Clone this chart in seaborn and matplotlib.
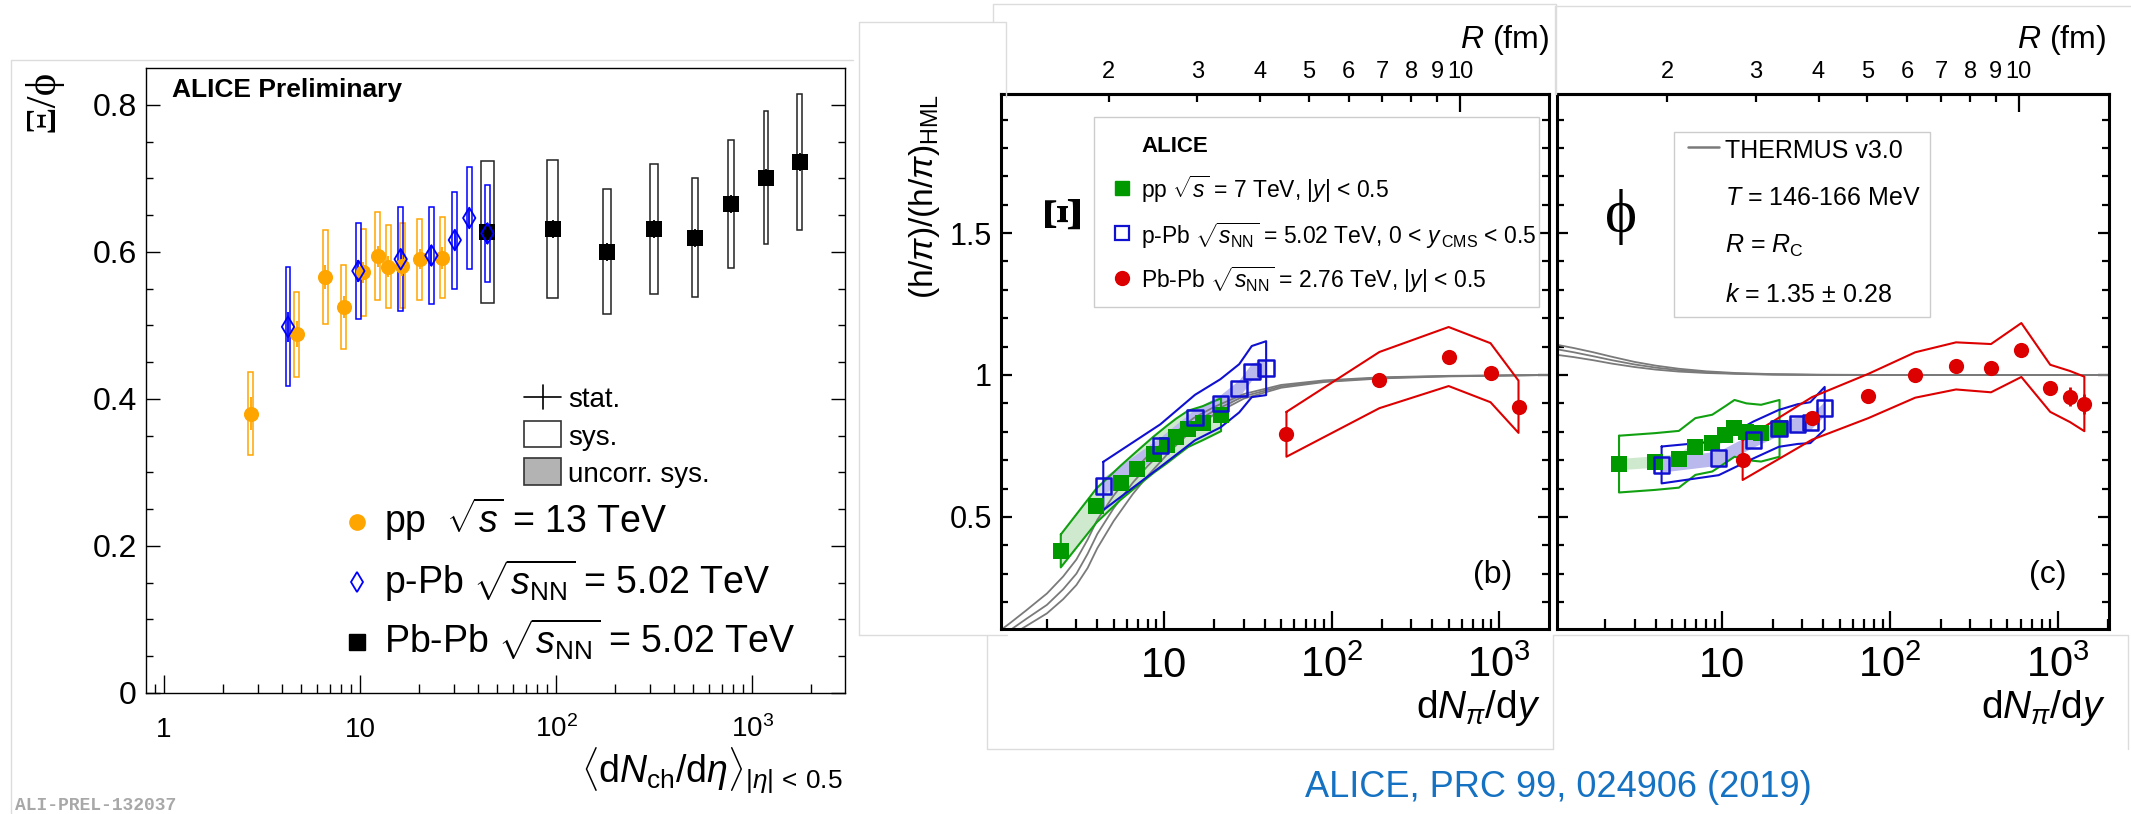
import numpy as np
import matplotlib
matplotlib.use("Agg")
import matplotlib.pyplot as plt
from matplotlib.patches import Rectangle
from matplotlib.lines import Line2D
from matplotlib.ticker import FixedLocator, NullFormatter
import seaborn as sns

sns.set_theme(style="ticks")
plt.rcParams.update({
    "font.family": ["Liberation Sans", "DejaVu Sans"],
    "mathtext.fontset": "custom",
    "mathtext.rm": "Liberation Sans",
    "mathtext.it": "Liberation Sans:italic",
    "mathtext.bf": "Liberation Sans:bold",
    "axes.edgecolor": "black",
    "xtick.color": "black",
    "ytick.color": "black",
    "text.color": "black",
    "axes.facecolor": "white",
    "figure.facecolor": "white",
})

# ---------------- Xi/phi versus <dNch/deta> ----------------
PP13_DNDETA = [2.77, 4.76, 6.63, 8.26, 10.4, 12.3, 13.9, 16.4, 20.1, 26.3]
PP13_RATIO = [0.380, 0.488, 0.566, 0.525, 0.572, 0.594, 0.580, 0.581, 0.590, 0.592]
PP13_STAT = [0.022, 0.018, 0.016, 0.015, 0.014, 0.014, 0.014, 0.014, 0.014, 0.015]
PP13_SYS = [0.056, 0.058, 0.064, 0.057, 0.059, 0.060, 0.057, 0.058, 0.055, 0.055]

PPB_DNDETA = [4.29, 9.8, 16.1, 23.1, 30.4, 36.0, 44.6]
PPB_RATIO = [0.498, 0.574, 0.590, 0.595, 0.616, 0.646, 0.625]
PPB_STAT = [0.020, 0.015, 0.014, 0.014, 0.014, 0.014, 0.014]
PPB_SYS = [0.081, 0.065, 0.071, 0.066, 0.066, 0.070, 0.066]

PBPB_DNDETA = [44.6, 95.8, 181, 315, 508, 778, 1170, 1742]
PBPB_RATIO = [0.627, 0.631, 0.600, 0.631, 0.619, 0.665, 0.701, 0.722]
PBPB_STAT = [0.012, 0.012, 0.012, 0.012, 0.012, 0.012, 0.012, 0.012]
PBPB_SYS = [0.096, 0.094, 0.085, 0.089, 0.081, 0.087, 0.090, 0.093]

# ---------------- double ratios (h/pi)/(h/pi)_HML versus dN_pi/dy ----------------
PP7_DNDY = [2.42, 3.95, 5.5, 6.9, 8.7, 10.4, 11.8, 13.9, 17.0, 21.9]
PPB502_DNDY = [4.34, 9.5, 15.3, 21.7, 28.1, 33.4, 40.7]
PBPB_XI_DNDY = [53.8, 193, 500, 889, 1306]
PBPB_PHI_DNDY = [13.2, 34.2, 74.1, 141, 247, 399, 605, 899, 1180, 1436]

XI_PP7 = [0.38, 0.54, 0.62, 0.67, 0.72, 0.755, 0.78, 0.81, 0.83, 0.86]
XI_PP7_SYS = [0.058, 0.060, 0.060, 0.062, 0.064, 0.066, 0.066, 0.064, 0.060, 0.058]
XI_PPB = [0.609, 0.751, 0.850, 0.900, 0.953, 1.012, 1.024]
XI_PPB_SYS = [0.085, 0.075, 0.080, 0.085, 0.085, 0.090, 0.095]
XI_PBPB = [0.791, 0.982, 1.065, 1.008, 0.888]
XI_PBPB_SYS = [0.079, 0.099, 0.104, 0.104, 0.092]

PHI_PP7 = [0.686, 0.695, 0.703, 0.748, 0.760, 0.790, 0.812, 0.800, 0.795, 0.812]
PHI_PP7_SYS = [0.10, 0.10, 0.10, 0.10, 0.10, 0.10, 0.10, 0.10, 0.10, 0.10]
PHI_PPB = [0.683, 0.707, 0.771, 0.812, 0.827, 0.832, 0.883]
PHI_PPB_SYS = [0.065, 0.060, 0.065, 0.065, 0.070, 0.072, 0.075]
PHI_PBPB = [0.700, 0.847, 0.926, 1.000, 1.032, 1.024, 1.088, 0.953, 0.924, 0.898]
PHI_PBPB_STAT = [0.010, 0.010, 0.010, 0.010, 0.010, 0.012, 0.015, 0.020, 0.035, 0.035]
PHI_PBPB_SYS = [0.070, 0.075, 0.078, 0.080, 0.083, 0.085, 0.095, 0.083, 0.090, 0.096]

# THERMUS v3.0 canonical curves (T = 146-166 MeV)
THERMUS_XI_DNDY = [1.0, 1.2, 1.5, 2.0, 2.5, 3.0, 3.5, 4.0, 5.0, 6.5, 8.0, 11, 15, 20, 30, 50, 90, 200, 500, 2000]
THERMUS_XI = [
    [0.09, 0.125, 0.17, 0.23, 0.29, 0.35, 0.42, 0.49, 0.575, 0.66, 0.715, 0.785, 0.848, 0.888, 0.933, 0.965, 0.981, 0.992, 0.997, 1.0],
    [0.07, 0.10, 0.14, 0.19, 0.245, 0.30, 0.37, 0.44, 0.53, 0.62, 0.68, 0.76, 0.83, 0.875, 0.925, 0.960, 0.978, 0.990, 0.996, 1.0],
    [0.05, 0.08, 0.115, 0.16, 0.21, 0.26, 0.32, 0.39, 0.485, 0.58, 0.645, 0.735, 0.81, 0.862, 0.917, 0.955, 0.975, 0.988, 0.995, 1.0],
]
THERMUS_PHI_DNDY = [1.0, 1.3, 1.7, 2.2, 3.0, 4.0, 5.5, 8.0, 12, 20, 40, 100, 2000]
THERMUS_PHI = [
    [1.108, 1.095, 1.080, 1.064, 1.046, 1.033, 1.022, 1.013, 1.007, 1.003, 1.001, 1.0, 1.0],
    [1.092, 1.080, 1.066, 1.052, 1.037, 1.026, 1.017, 1.010, 1.005, 1.002, 1.000, 1.0, 1.0],
    [1.072, 1.063, 1.052, 1.040, 1.028, 1.019, 1.012, 1.007, 1.004, 1.001, 1.000, 1.0, 1.0],
]

# colours
ORANGE = "#ffa500"
BLUE_L = "#0000ff"
GREEN = "#009a00"
BLUE = "#1010d0"
RED = "#dd0000"
LAVENDER = "#b9b9ee"
PALE_GREEN = "#cfe9cf"

W, H = 2131, 814
fig = plt.figure(figsize=(W / 100, H / 100), dpi=100)


def fx(px):
    return px / W


def fy(py):
    return 1 - py / H


def frame_line(xs, ys):
    fig.add_artist(Line2D([fx(v) for v in xs], [fy(v) for v in ys],
                          transform=fig.transFigure, color="#dcdcdc", lw=1.0))


# light borders of the three panels
frame_line([11, 11, 853], [814, 60, 60])
frame_line([859, 859, 1006, 1006], [635, 22, 22, 97])
frame_line([993, 993, 1556, 1556], [22, 4, 4, 94])
frame_line([859, 1007], [635, 635])
frame_line([987, 987, 1553], [635, 749, 749])
frame_line([1555, 1555, 2131], [94, 6, 6])
frame_line([1553, 1553, 2128, 2128], [749, 635, 635, 749])

axL = fig.add_axes([fx(146), fy(693), (845 - 146) / W, (693 - 68) / H])
axM = fig.add_axes([fx(1001), fy(629), 548 / W, 535 / H])
axR = fig.add_axes([fx(1557), fy(629), 552 / W, 535 / H])

# ======================= left panel =======================
axL.set_xscale("log")
axL.set_xlim(0.81, 2965)
axL.set_ylim(0, 0.85)


def sys_boxes(ax, xs, ys, errs, half_dec, edge, face="none", lw=1.1, z=2):
    if np.isscalar(half_dec):
        half_dec = [half_dec] * len(xs)
    for x, y, e, h in zip(xs, ys, errs, half_dec):
        x0, x1 = x * 10 ** (-h), x * 10 ** h
        ax.add_patch(Rectangle((x0, y - e), x1 - x0, 2 * e, facecolor=face,
                               edgecolor=edge, lw=lw, zorder=z))


def stat_bars(ax, xs, ys, errs, color, lw=1.3, z=3):
    ax.vlines(xs, np.array(ys) - np.array(errs), np.array(ys) + np.array(errs),
              colors=color, lw=lw, zorder=z)


PBPB_BOX_HALF = [0.033, 0.028, 0.020, 0.018, 0.015, 0.013, 0.0115, 0.012]
sys_boxes(axL, PBPB_DNDETA, PBPB_RATIO, PBPB_SYS, PBPB_BOX_HALF, "#222222")
sys_boxes(axL, PP13_DNDETA, PP13_RATIO, PP13_SYS, 0.0125, ORANGE)
sys_boxes(axL, PPB_DNDETA, PPB_RATIO, PPB_SYS, 0.012, BLUE_L)
stat_bars(axL, PBPB_DNDETA, PBPB_RATIO, PBPB_STAT, "black")
stat_bars(axL, PP13_DNDETA, PP13_RATIO, PP13_STAT, ORANGE)
stat_bars(axL, PPB_DNDETA, PPB_RATIO, PPB_STAT, BLUE_L)

sns.scatterplot(x=PBPB_DNDETA, y=PBPB_RATIO, ax=axL, marker="s", s=135,
                color="black", edgecolor="black", linewidth=0, zorder=5, legend=False)
sns.scatterplot(x=PP13_DNDETA, y=PP13_RATIO, ax=axL, marker="o", s=118,
                color=ORANGE, edgecolor=ORANGE, linewidth=0, zorder=5, legend=False)
sns.scatterplot(x=PPB_DNDETA, y=PPB_RATIO, ax=axL, marker="d", s=110,
                facecolor="none", edgecolor=BLUE_L, linewidth=1.3, zorder=6, legend=False)

axL.set_xticks([1, 10, 100, 1000], labels=["1", "10", r"$10^{2}$", r"$10^{3}$"])
left_minor = [0.9] + [m * d for d in (1, 10, 100) for m in range(2, 10)] + [2000]
axL.xaxis.set_minor_locator(FixedLocator(left_minor))
axL.xaxis.set_minor_formatter(NullFormatter())
axL.set_yticks([0, 0.2, 0.4, 0.6, 0.8], labels=["0", "0.2", "0.4", "0.6", "0.8"])
axL.yaxis.set_minor_locator(FixedLocator([0.05 * k for k in range(1, 17) if k % 4]))
axL.tick_params(which="both", direction="in", top=False, right=True, width=1.0)
axL.tick_params(axis="y", which="major", length=10, labelsize=23, pad=6.5)
axL.tick_params(axis="y", which="minor", length=5)
axL.tick_params(axis="x", which="major", length=13, labelsize=20, pad=31.5)
axL.tick_params(axis="x", which="minor", length=6.5)
for lab in axL.get_xticklabels():
    lab.set_va("baseline")
for sp in axL.spines.values():
    sp.set_linewidth(1.0)

fig.text(fx(172), fy(97), "ALICE Preliminary", fontsize=19, fontweight="bold", va="baseline")
fig.text(fx(43), fy(70), "Ξ/ϕ", rotation=90, ha="center", va="top",
         fontsize=31, family=["Liberation Serif", "DejaVu Serif"])
fig.text(fx(843), fy(783), r"$\langle$d$N_{\rm ch}$/d$\eta\rangle_{|\eta|\,<\,0.5}$",
         ha="right", va="baseline", fontsize=27)
fig.text(fx(15), fy(810), "ALI-PREL-132037", fontsize=13, fontweight="bold",
         color="#a8a8a8", family=["Liberation Mono", "DejaVu Sans Mono"], va="baseline")

# uncertainty key
fig.add_artist(Line2D([fx(524), fx(561)], [fy(397), fy(397)], transform=fig.transFigure,
                      color="black", lw=1.2))
fig.add_artist(Line2D([fx(543), fx(543)], [fy(385), fy(409)], transform=fig.transFigure,
                      color="black", lw=1.2))
fig.add_artist(Rectangle((fx(524), fy(447)), 37 / W, 26 / H, transform=fig.transFigure,
                         facecolor="white", edgecolor="#333333", lw=1.2))
fig.add_artist(Rectangle((fx(524), fy(485)), 37 / W, 27 / H, transform=fig.transFigure,
                         facecolor="#b3b3b3", edgecolor="#333333", lw=1.2))
for txt, yb in (("stat.", 407), ("sys.", 445), ("uncorr. sys.", 482)):
    fig.text(fx(568), fy(yb), txt, fontsize=20, va="baseline")

# collision-system key
fig.add_artist(Line2D([fx(357)], [fy(522)], transform=fig.transFigure, marker="o", ms=11,
                      color=ORANGE, mec=ORANGE, ls="none"))
fig.add_artist(Line2D([fx(357)], [fy(582)], transform=fig.transFigure, marker="d", ms=10,
                      mfc="none", mec=BLUE_L, mew=1.3, ls="none"))
fig.add_artist(Line2D([fx(357)], [fy(642)], transform=fig.transFigure, marker="s", ms=11.5,
                      color="black", ls="none"))
fig.text(fx(384), fy(533), r"pp  $\sqrt{s}$ = 13 TeV", fontsize=27, va="baseline")
fig.text(fx(384), fy(594), r"p-Pb $\sqrt{s_{\rm NN}}$ = 5.02 TeV", fontsize=27, va="baseline")
fig.text(fx(384), fy(654), r"Pb-Pb $\sqrt{s_{\rm NN}}$ = 5.02 TeV", fontsize=27, va="baseline")

# ======================= model-comparison panels =======================
R_SCALE = 1.196


def to_radius(x):
    return R_SCALE * np.cbrt(np.asarray(x, dtype=float))


def from_radius(r):
    return (np.asarray(r, dtype=float) / R_SCALE) ** 3


def style_panel(ax, xlim, show_ylabels):
    ax.set_xscale("log")
    ax.set_xlim(*xlim)
    ax.set_ylim(0.105, 1.99)
    ax.set_xticks([10, 100, 1000], labels=["10", r"$10^{2}$", r"$10^{3}$"])
    minor = [m * d for d in (1, 10, 100, 1000) for m in range(2, 10) if xlim[0] <= m * d <= xlim[1]]
    ax.xaxis.set_minor_locator(FixedLocator(minor))
    ax.xaxis.set_minor_formatter(NullFormatter())
    ax.set_yticks([0.5, 1.0, 1.5], labels=["0.5", "1", "1.5"])
    ax.yaxis.set_minor_locator(FixedLocator([0.1 * k for k in range(2, 20) if k % 5]))
    ax.tick_params(which="both", direction="in", top=False, right=True, width=1.6)
    ax.tick_params(axis="y", which="major", length=8, labelsize=22, pad=6.5,
                   labelleft=show_ylabels)
    ax.tick_params(axis="y", which="minor", length=4.7)
    ax.tick_params(axis="x", which="major", length=13, labelsize=30, pad=34.5)
    ax.tick_params(axis="x", which="minor", length=7)
    for lab in ax.get_xticklabels():
        lab.set_va("baseline")
    for sp in ax.spines.values():
        sp.set_linewidth(2.2)
    sec = ax.secondary_xaxis("top", functions=(to_radius, from_radius))
    sec.set_xticks([10], labels=["10"])
    sec.set_xticks(list(range(2, 10)), labels=[str(i) for i in range(2, 10)], minor=True)
    sec.tick_params(which="both", direction="in", width=1.6, labelsize=17, pad=8)
    sec.tick_params(which="major", length=13)
    sec.tick_params(which="minor", length=5.8)
    sec.spines["top"].set_linewidth(2.2)


def band(ax, xs, ys, errs, edge, face=None, z_fill=1, z_edge=2.5, lw=1.5):
    xs = np.asarray(xs, float)
    ys = np.asarray(ys, float)
    errs = np.asarray(errs, float)
    px = np.concatenate([xs, xs[::-1], xs[:1]])
    py = np.concatenate([ys + errs, (ys - errs)[::-1], ys[:1] + errs[:1]])
    if face is not None:
        ax.fill(px, py, color=face, lw=0, zorder=z_fill)
    ax.plot(px, py, color=edge, lw=lw, zorder=z_edge)


def inner_band(ax, xs, ys, half, face):
    ys = np.asarray(ys, float)
    ax.fill_between(xs, ys - half, ys + half, color=face, lw=0, zorder=1.2)


def model_curves(ax, xs, curves):
    for cv in curves:
        sns.lineplot(x=xs, y=cv, ax=ax, color="#7a7a7a", linewidth=1.3,
                     sort=False, estimator=None, legend=False, zorder=2)


def data_points(ax, pp_y, ppb_y, pbpb_x, pbpb_y):
    sns.scatterplot(x=PP7_DNDY, y=pp_y, ax=ax, marker="s", s=125, color=GREEN,
                    edgecolor=GREEN, linewidth=0, zorder=5, legend=False)
    sns.scatterplot(x=PPB502_DNDY, y=ppb_y, ax=ax, marker="s", s=125, facecolor="none",
                    edgecolor=BLUE, linewidth=1.8, zorder=6, legend=False)
    sns.scatterplot(x=pbpb_x, y=pbpb_y, ax=ax, marker="o", s=120, color=RED,
                    edgecolor=RED, linewidth=0, zorder=6, legend=False)


# ---- Xi panel (b)
style_panel(axM, (1.064, 1986), True)
band(axM, PP7_DNDY, XI_PP7, XI_PP7_SYS, "#10a010", PALE_GREEN)
band(axM, PPB502_DNDY, XI_PPB, XI_PPB_SYS, BLUE)
inner_band(axM, PPB502_DNDY, XI_PPB, 0.03, LAVENDER)
band(axM, PBPB_XI_DNDY, XI_PBPB, XI_PBPB_SYS, RED)
model_curves(axM, THERMUS_XI_DNDY, THERMUS_XI)
data_points(axM, XI_PP7, XI_PPB, PBPB_XI_DNDY, XI_PBPB)

# ---- phi panel (c)
style_panel(axR, (1.033, 2014), False)
band(axR, PP7_DNDY, PHI_PP7, PHI_PP7_SYS, "#10a010")
inner_band(axR, PP7_DNDY, PHI_PP7, 0.02, PALE_GREEN)
band(axR, PPB502_DNDY, PHI_PPB, PHI_PPB_SYS, BLUE)
inner_band(axR, PPB502_DNDY, PHI_PPB, 0.025, LAVENDER)
band(axR, PBPB_PHI_DNDY, PHI_PBPB, PHI_PBPB_SYS, RED)
model_curves(axR, THERMUS_PHI_DNDY, THERMUS_PHI)
stat_bars(axR, PBPB_PHI_DNDY, PHI_PBPB, PHI_PBPB_STAT, RED, lw=2.0, z=6)
data_points(axR, PHI_PP7, PHI_PPB, PBPB_PHI_DNDY, PHI_PBPB)

# axis titles of the model panels
fig.text(fx(925), fy(94), r"(h/$\pi$)/(h/$\pi$)$_{\rm HML}$", rotation=90,
         ha="center", va="top", fontsize=24)
for xr in (1541, 2106):
    fig.text(fx(xr), fy(718), r"d$N_{\pi}$/d$y$", ha="right", va="baseline", fontsize=28)
for xr in (1549, 2106):
    fig.text(fx(xr), fy(48), r"$R$ (fm)", ha="right", va="baseline", fontsize=23)

fig.text(fx(1065), fy(211), "Ξ", rotation=90, ha="center", va="center", fontsize=38,
         fontweight="bold", family=["Liberation Serif", "DejaVu Serif"])
fig.text(fx(1621), fy(217), "ϕ", ha="center", va="center", fontsize=44,
         family=["Liberation Serif", "DejaVu Serif"])
fig.text(fx(1493), fy(575), "(b)", ha="center", va="center", fontsize=23)
fig.text(fx(2048), fy(575), "(c)", ha="center", va="center", fontsize=23)

# legend of panel (b)
fig.add_artist(Rectangle((fx(1094), fy(307)), (1539 - 1094) / W, (307 - 117) / H,
                         transform=fig.transFigure, facecolor="white",
                         edgecolor="#cccccc", lw=1.0, zorder=10))
fig.text(fx(1141), fy(152), "ALICE", fontsize=16, fontweight="bold", va="baseline", zorder=11)
fig.add_artist(Line2D([fx(1122)], [fy(188)], transform=fig.transFigure, marker="s", ms=10,
                      color=GREEN, ls="none", zorder=11))
fig.add_artist(Line2D([fx(1122)], [fy(233)], transform=fig.transFigure, marker="s", ms=10,
                      mfc="none", mec=BLUE, mew=1.6, ls="none", zorder=11))
fig.add_artist(Line2D([fx(1122)], [fy(278)], transform=fig.transFigure, marker="o", ms=10,
                      color=RED, ls="none", zorder=11))
fig.text(fx(1141), fy(198), r"pp $\sqrt{s}$ = 7 TeV, |$y$| < 0.5", fontsize=16.5,
         va="baseline", zorder=11)
fig.text(fx(1141), fy(244), r"p-Pb $\sqrt{s_{\rm NN}}$ = 5.02 TeV, 0 < $y_{\rm \,CMS}$ < 0.5",
         fontsize=16.5, va="baseline", zorder=11)
fig.text(fx(1141), fy(288), r"Pb-Pb $\sqrt{s_{\rm NN}}$ = 2.76 TeV, |$y$| < 0.5", fontsize=16.5,
         va="baseline", zorder=11)

# legend of panel (c)
fig.add_artist(Rectangle((fx(1674), fy(317)), (1930 - 1674) / W, (317 - 132) / H,
                         transform=fig.transFigure, facecolor="white",
                         edgecolor="#cccccc", lw=1.0, zorder=10))
fig.add_artist(Line2D([fx(1688), fx(1719)], [fy(147), fy(147)], transform=fig.transFigure,
                      color="#7a7a7a", lw=1.8, zorder=11))
for txt, yb in (("THERMUS v3.0", 158), (r"$T$ = 146-166 MeV", 205),
                (r"$R$ = $R_{\rm C}$", 253), (r"$k$ = 1.35 $\pm$ 0.28", 302)):
    fig.text(fx(1725), fy(yb), txt, fontsize=18, va="baseline", zorder=11)

fig.text(fx(1305), fy(797), "ALICE, PRC 99, 024906 (2019)", fontsize=26,
         color="#1572c2", va="baseline")

fig.savefig("out.png", dpi=100)
